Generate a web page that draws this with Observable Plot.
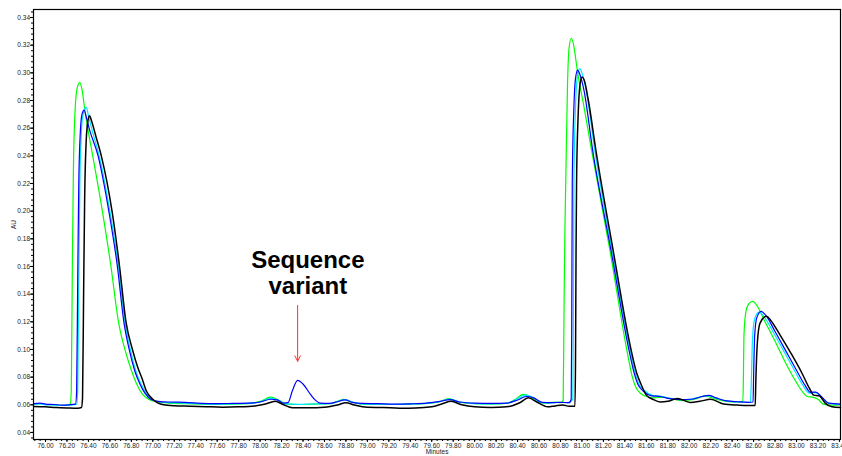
<!DOCTYPE html>
<html><head><meta charset="utf-8">
<script src="https://cdn.jsdelivr.net/npm/d3@7"></script>
<script src="https://cdn.jsdelivr.net/npm/@observablehq/plot@0.6"></script>
<style>html,body{margin:0;padding:0;background:#fff;overflow:hidden}#chart svg{display:block}</style>
</head><body><div id="chart"></div>
<script>
// time (minutes), absorbance (AU)
const greenTrace = [
[75.89,0.0605],[75.95,0.0608],[76.00,0.0602],[76.08,0.0600],[76.15,0.0596],[76.20,0.0598],[76.23,0.0605],
[76.24,0.070],[76.25,0.160],[76.26,0.230],[76.275,0.272],[76.295,0.289],[76.32,0.293],[76.34,0.288],[76.37,0.271],
[76.40,0.257],[76.44,0.240],[76.53,0.200],[76.61,0.160],[76.68,0.120],[76.74,0.100],[76.80,0.085],[76.85,0.075],
[76.90,0.068],[76.96,0.064],[77.05,0.062],[77.15,0.0612],[77.30,0.0608],[77.45,0.0605],[77.60,0.0603],[77.75,0.0605],
[77.90,0.061],[78.00,0.0625],[78.10,0.0655],[78.18,0.063],[78.25,0.0605],[78.35,0.0602],[78.50,0.0605],[78.65,0.0608],
[78.72,0.0625],[78.78,0.064],[78.85,0.062],[78.95,0.0605],[79.10,0.0603],[79.25,0.0602],[79.40,0.0605],[79.55,0.061],
[79.68,0.0625],[79.76,0.0645],[79.85,0.062],[80.00,0.0608],[80.15,0.0605],[80.30,0.061],[80.38,0.064],[80.45,0.0675],
[80.52,0.066],[80.60,0.0615],[80.68,0.0612],[80.75,0.062],[80.80,0.0615],[80.825,0.063],[80.832,0.120],[80.84,0.180],
[80.85,0.225],[80.865,0.290],[80.88,0.318],[80.90,0.325],[80.92,0.321],[80.96,0.300],[81.02,0.275],[81.09,0.244],
[81.26,0.172],[81.42,0.099],[81.47,0.080],[81.50,0.073],[81.55,0.068],[81.60,0.066],[81.68,0.065],[81.75,0.0655],
[81.85,0.064],[81.95,0.063],[82.05,0.064],[82.15,0.0665],[82.25,0.064],[82.35,0.0625],[82.45,0.062],[82.50,0.0625],
[82.505,0.080],[82.51,0.110],[82.53,0.128],[82.56,0.1335],[82.59,0.1347],[82.62,0.133],[82.70,0.121],[82.80,0.106],
[82.90,0.090],[83.00,0.076],[83.06,0.069],[83.10,0.066],[83.15,0.0655],[83.20,0.064],[83.25,0.0605],[83.32,0.0598],[83.41,0.060]
];
const cyanTrace = [
[75.89,0.0603],[75.95,0.0606],[76.00,0.0600],[76.08,0.0598],[76.15,0.0595],[76.22,0.0597],[76.29,0.0602],
[76.30,0.070],[76.31,0.150],[76.32,0.220],[76.335,0.258],[76.35,0.270],[76.37,0.2745],[76.38,0.275],[76.40,0.269],
[76.44,0.257],[76.50,0.240],[76.60,0.200],[76.68,0.160],[76.74,0.120],[76.79,0.100],[76.84,0.085],[76.89,0.075],
[76.94,0.068],[76.99,0.064],[77.05,0.0622],[77.15,0.0615],[77.30,0.0612],[77.45,0.0607],[77.60,0.0605],[77.75,0.0607],
[77.90,0.061],[78.00,0.062],[78.10,0.0648],[78.17,0.0632],[78.24,0.0606],[78.35,0.0603],[78.50,0.0606],[78.65,0.0608],
[78.72,0.0622],[78.79,0.0638],[78.86,0.062],[78.95,0.0606],[79.10,0.0604],[79.25,0.0603],[79.40,0.0606],[79.55,0.061],
[79.68,0.0624],[79.77,0.0642],[79.86,0.062],[80.00,0.0609],[80.15,0.0607],[80.30,0.0611],[80.39,0.064],[80.47,0.067],
[80.54,0.0655],[80.62,0.0616],[80.70,0.0613],[80.78,0.0618],[80.87,0.0615],[80.915,0.064],[80.92,0.120],[80.925,0.222],
[80.94,0.275],[80.955,0.296],[80.98,0.303],[81.00,0.300],[81.04,0.287],[81.12,0.244],[81.28,0.172],[81.45,0.099],
[81.50,0.082],[81.53,0.075],[81.58,0.0705],[81.65,0.067],[81.73,0.0662],[81.82,0.0647],[81.92,0.0638],[82.02,0.0642],
[82.12,0.066],[82.18,0.0666],[82.25,0.0648],[82.35,0.0627],[82.45,0.062],[82.57,0.0618],[82.58,0.080],[82.59,0.108],
[82.61,0.122],[82.65,0.127],[82.69,0.1245],[82.78,0.113],[82.88,0.099],[82.98,0.085],[83.06,0.074],[83.12,0.0685],
[83.18,0.0688],[83.23,0.0655],[83.30,0.0612],[83.41,0.0603]
];
const blueTrace = [
[75.89,0.0608],[75.95,0.0612],[76.00,0.0605],[76.08,0.0602],[76.15,0.0598],[76.22,0.0600],[76.28,0.0605],
[76.29,0.070],[76.30,0.150],[76.31,0.220],[76.325,0.258],[76.34,0.270],[76.36,0.273],[76.38,0.268],[76.41,0.259],
[76.49,0.240],[76.59,0.200],[76.67,0.160],[76.73,0.120],[76.78,0.100],[76.83,0.085],[76.88,0.075],[76.93,0.068],
[76.98,0.064],[77.05,0.0625],[77.15,0.062],[77.30,0.0618],[77.45,0.061],[77.60,0.0608],[77.75,0.061],[77.90,0.0612],
[78.00,0.062],[78.10,0.064],[78.16,0.0635],[78.22,0.0612],[78.26,0.0615],[78.30,0.070],[78.35,0.0776],[78.40,0.075],
[78.47,0.0675],[78.52,0.063],[78.56,0.0612],[78.65,0.061],[78.72,0.0622],[78.79,0.0635],[78.86,0.0618],[78.95,0.061],
[79.10,0.0608],[79.25,0.0605],[79.40,0.0607],[79.55,0.0612],[79.68,0.0625],[79.77,0.0638],[79.86,0.062],[80.00,0.0612],
[80.15,0.061],[80.30,0.0612],[80.40,0.0635],[80.48,0.066],[80.55,0.065],[80.63,0.0618],[80.72,0.0615],[80.80,0.0618],
[80.88,0.0615],[80.90,0.064],[80.905,0.120],[80.91,0.222],[80.925,0.275],[80.94,0.296],[80.96,0.302],[80.98,0.299],
[81.02,0.287],[81.10,0.244],[81.27,0.172],[81.44,0.099],[81.49,0.082],[81.52,0.075],[81.57,0.070],[81.65,0.0665],
[81.73,0.066],[81.82,0.0645],[81.92,0.0638],[82.02,0.064],[82.12,0.066],[82.18,0.0668],[82.25,0.065],[82.35,0.0628],
[82.45,0.0622],[82.55,0.0618],[82.595,0.062],[82.60,0.080],[82.61,0.110],[82.63,0.123],[82.67,0.1275],[82.71,0.125],
[82.80,0.113],[82.90,0.099],[83.00,0.085],[83.08,0.074],[83.13,0.069],[83.18,0.0692],[83.23,0.066],[83.30,0.0612],[83.41,0.0605]
];
const blackTrace = [
[75.89,0.0588],[76.00,0.0585],[76.10,0.0580],[76.20,0.0577],[76.30,0.0575],[76.335,0.0580],[76.345,0.065],
[76.355,0.140],[76.365,0.210],[76.38,0.252],[76.395,0.265],[76.41,0.269],[76.43,0.265],[76.47,0.254],[76.52,0.240],
[76.62,0.200],[76.69,0.160],[76.75,0.120],[76.81,0.100],[76.86,0.087],[76.90,0.079],[76.94,0.070],[77.00,0.064],
[77.10,0.060],[77.20,0.0593],[77.35,0.0590],[77.50,0.0586],[77.65,0.0583],[77.80,0.0585],[77.95,0.0592],[78.05,0.0605],
[78.14,0.0626],[78.22,0.0600],[78.30,0.0578],[78.45,0.0578],[78.60,0.0582],[78.72,0.0598],[78.80,0.0615],[78.88,0.0598],
[79.00,0.0582],[79.15,0.0580],[79.30,0.0575],[79.45,0.0576],[79.60,0.0585],[79.70,0.0608],[79.78,0.0625],[79.88,0.0600],
[80.00,0.0585],[80.15,0.0580],[80.30,0.0585],[80.42,0.0615],[80.50,0.0650],[80.58,0.0620],[80.68,0.0585],[80.75,0.0592],
[80.82,0.0598],[80.88,0.0590],[80.935,0.0590],[80.94,0.090],[80.945,0.170],[80.95,0.222],[80.965,0.270],[80.98,0.290],
[81.00,0.297],[81.02,0.295],[81.06,0.280],[81.13,0.244],[81.29,0.172],[81.46,0.099],[81.51,0.083],[81.55,0.075],
[81.60,0.067],[81.66,0.0640],[81.73,0.0620],[81.80,0.0625],[81.89,0.0646],[82.01,0.0617],[82.10,0.0625],[82.20,0.0640],
[82.32,0.0605],[82.45,0.0598],[82.55,0.0595],[82.615,0.0595],[82.62,0.075],[82.635,0.105],[82.66,0.119],[82.72,0.124],
[82.76,0.121],[82.85,0.110],[82.95,0.097],[83.05,0.083],[83.12,0.072],[83.16,0.067],[83.21,0.0665],[83.27,0.0610],
[83.33,0.0585],[83.41,0.0580]
];
const traceNames = ["green", "cyan", "blue", "black"];
const traceColors = ["#00ff00", "#00e5ff", "#0000ff", "#000000"];
const traces = [greenTrace, cyanTrace, blueTrace, blackTrace];

const xTickValues = [76.0,76.2,76.4,76.6,76.8,77.0,77.2,77.4,77.6,77.8,78.0,78.2,78.4,78.6,78.8,79.0,79.2,79.4,79.6,79.8,80.0,80.2,80.4,80.6,80.8,81.0,81.2,81.4,81.6,81.8,82.0,82.2,82.4,82.6,82.8,83.0,83.2,83.4];
const yTickValues = [0.04,0.06,0.08,0.10,0.12,0.14,0.16,0.18,0.20,0.22,0.24,0.26,0.28,0.30,0.32,0.34];
const xMinorTicks = d3.range(0, 151).map(i => 75.90 + i * 0.05).filter(v => v <= 83.41);
const yMinorTicks = d3.range(0, 78).map(i => 0.036 + i * 0.004).filter(v => v <= 0.345);

const annotationLines = ["Sequence", "variant"];
const annotationX = 78.445;
const annotationY = [0.1641, 0.1458];
const arrowSpec = {x: 78.35, yStart: 0.1318, yEnd: 0.0915};

const font = "'Liberation Sans Narrow', 'Arial Narrow', 'Liberation Sans', Arial, sans-serif";

const lineMarks = traces.map((tr, i) => Plot.line(tr, {
  x: d => d[0], y: d => d[1], stroke: traceColors[i],
  strokeWidth: traceNames[i] === "black" ? 1.5 : 1.2, curve: "monotone-x"
}));

const chart = Plot.plot({
  width: 842, height: 456,
  marginLeft: 33, marginRight: 2, marginTop: 9, marginBottom: 17,
  x: {domain: [75.888, 83.41]},
  y: {domain: [0.0349, 0.3458]},
  style: {fontFamily: font, fontSize: "6.5px", color: "#000", background: "#fff"},
  marks: [
    Plot.axisY(yMinorTicks, {tickSize: 2, fill: "none", label: null}),
    Plot.axisY(yTickValues, {tickSize: 3, tickPadding: 0.5, tickFormat: d => d.toFixed(2), fill: "#222",
      label: "AU", labelAnchor: "center", labelArrow: "none", labelOffset: 22}),
    Plot.axisX(xMinorTicks, {tickSize: 2, fill: "none", label: null}),
    Plot.axisX(xTickValues, {tickSize: 3, tickPadding: 1, tickFormat: d => d.toFixed(2), fill: "#222",
      label: "Minutes", labelAnchor: "center", labelArrow: "none", labelOffset: 14}),
    ...lineMarks,
    Plot.frame({stroke: "#000", strokeWidth: 1.2}),
    Plot.arrow([arrowSpec], {x1: "x", x2: "x", y1: "yStart", y2: "yEnd", stroke: "#ff3030",
      strokeWidth: 1, headLength: 9, headAngle: 55}),
    Plot.text(annotationLines, {x: () => annotationX, y: (d, i) => annotationY[i], text: d => d,
      fontSize: 24, fontWeight: "bold", fontFamily: "'Liberation Sans', Arial, sans-serif", fill: "#000"})
  ]
});
document.getElementById("chart").appendChild(chart);
</script>
</body></html>
